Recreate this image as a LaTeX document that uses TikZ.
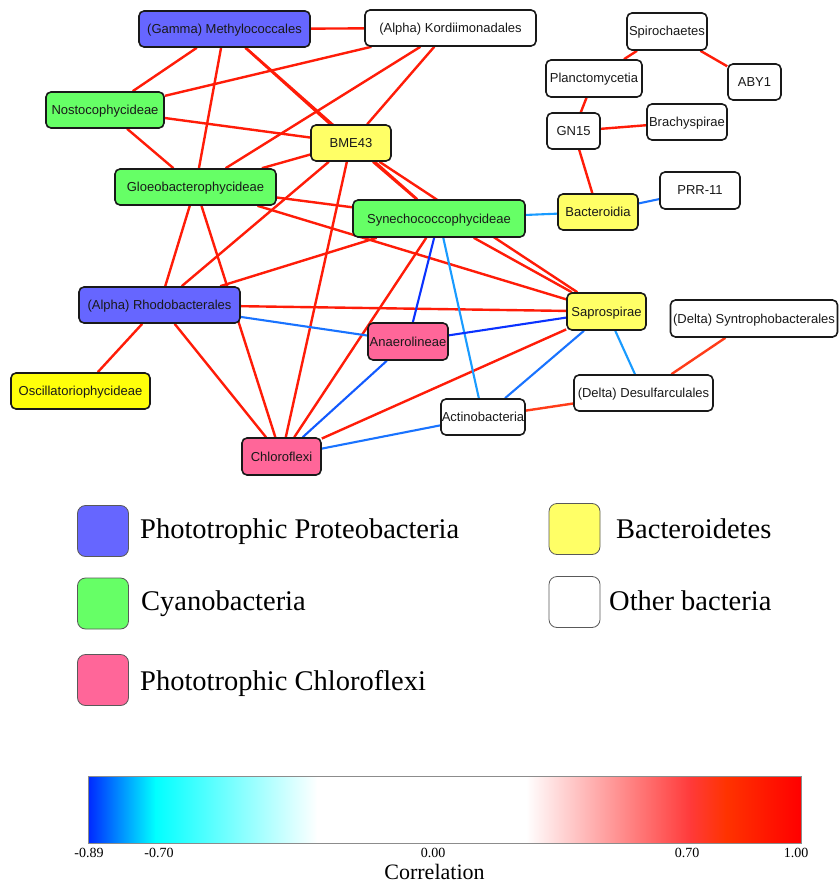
\documentclass[tikz,border=0pt]{standalone}
\usepackage{fontspec}
\setmainfont{Liberation Serif}
\newfontfamily\arialf{Liberation Sans}
\pgfdeclarelayer{bg}
\pgfsetlayers{bg,main}

\definecolor{cblue}{RGB}{102,102,255}
\definecolor{cgreen}{RGB}{102,255,102}
\definecolor{cyell}{RGB}{255,255,102}
\definecolor{cyelltwo}{RGB}{255,255,10}
\definecolor{cpink}{RGB}{255,102,153}
\definecolor{ered}{RGB}{255,28,8}
\definecolor{eorange}{RGB}{255,60,25}
\definecolor{elight}{RGB}{25,155,255}
\definecolor{emid}{RGB}{25,115,255}
\definecolor{emiddark}{RGB}{18,90,255}
\definecolor{edark}{RGB}{10,50,255}

\tikzset{
  taxon/.style={draw=black!90, line width=1.6pt, rounded corners=5pt, inner sep=0pt,
    minimum height=36pt, font=\arialf\fontsize{13}{15}\selectfont, text=black!90,
    text height=10.5pt, text depth=1.5pt},
  posedge/.style={draw=ered, line width=2.4pt},
  oredge/.style={draw=eorange, line width=2.4pt},
  negedge/.style={line width=2.1pt},
  legbox/.style={draw=black!65, line width=0.8pt, rounded corners=8pt, minimum width=51pt,
    minimum height=51pt, inner sep=0pt},
  legtext/.style={anchor=base west, inner sep=0pt, font=\fontsize{28.5}{32}\selectfont},
  cbl/.style={anchor=base, inner sep=0pt, font=\fontsize{14}{16}\selectfont}
}

\begin{document}
\begin{tikzpicture}[x=1pt,y=-1pt]
\useasboundingbox (0,0) rectangle (839,885);
\begin{pgfonlayer}{bg}
\fill[white] (0,0) rectangle (839,885);
\end{pgfonlayer}

% ---------- network nodes ----------
\node[taxon, fill=cblue,  minimum width=171pt] (meth)   at (224.5,29)  {(Gamma) Methylococcales};
\node[taxon, fill=white,  minimum width=171pt] (kord)   at (450.5,28)  {(Alpha) Kordiimonadales};
\node[taxon, fill=white,  minimum width=80pt, minimum height=37pt] (spiro) at (667,31.5) {Spirochaetes};
\node[taxon, fill=white,  minimum width=53pt]  (aby)    at (754.5,82)  {ABY1};
\node[taxon, fill=white,  minimum width=96pt, minimum height=37pt] (planc) at (594,78.5) {Planctomycetia};
\node[taxon, fill=white,  minimum width=53pt]  (gn)     at (573.5,131) {GN15};
\node[taxon, fill=white,  minimum width=80pt]  (brachy) at (687,122)   {Brachyspirae};
\node[taxon, fill=cyell,  minimum width=80pt]  (bacti)  at (598,212)   {Bacteroidia};
\node[taxon, fill=white,  minimum width=80pt, minimum height=37pt] (prr) at (700,190.5) {PRR-11};
\node[taxon, fill=cgreen, minimum width=118pt] (nosto)  at (105,110)   {Nostocophycideae};
\node[taxon, fill=cyell,  minimum width=80pt]  (bme)    at (351,143)   {BME43};
\node[taxon, fill=cgreen, minimum width=161pt] (gloeo)  at (195.5,187) {Gloeobacterophycideae};
\node[taxon, fill=cgreen, minimum width=172pt, minimum height=37pt] (syn) at (439,218.5) {Synechococcophycideae};
\node[taxon, fill=cblue,  minimum width=161pt] (rhodo)  at (159.5,305) {(Alpha) Rhodobacterales};
\node[taxon, fill=cyelltwo, minimum width=139pt] (oscill) at (80.5,391) {Oscillatoriophycideae};
\node[taxon, fill=cpink,  minimum width=80pt, minimum height=37pt] (anaero) at (408,341.5) {Anaerolineae};
\node[taxon, fill=cpink,  minimum width=79pt, minimum height=37pt] (chloro) at (281.5,456.5) {Chloroflexi};
\node[taxon, fill=cyell,  minimum width=79pt, minimum height=37pt] (sapro) at (606.5,311.5) {Saprospirae};
\node[taxon, fill=white,  minimum width=167pt, minimum height=37pt] (syntro) at (754,318.5) {(Delta) Syntrophobacterales};
\node[taxon, fill=white,  minimum width=139pt] (desulf) at (643.5,393) {(Delta) Desulfarculales};
\node[taxon, fill=white,  minimum width=84pt]  (actino) at (483,417)   {Actinobacteria};

% ---------- edges ----------
\begin{pgfonlayer}{bg}
\draw[posedge] (meth) -- (kord);
\draw[posedge] (meth) -- (nosto);
\draw[posedge] (meth) -- (gloeo);
\draw[posedge] (meth) -- (bme);
\draw[posedge] (meth) -- (syn);
\draw[posedge] (kord) -- (nosto);
\draw[posedge] (kord) -- (gloeo);
\draw[posedge] (kord) -- (bme);
\draw[posedge] (nosto) -- (bme);
\draw[posedge] (nosto) -- (gloeo);
\draw[posedge] (gloeo) -- (bme);
\draw[posedge] (gloeo) -- (syn);
\draw[posedge] (gloeo) -- (sapro);
\draw[posedge] (gloeo) -- (rhodo);
\draw[posedge] (gloeo) -- (chloro);
\draw[posedge] (bme) -- (rhodo);
\draw[posedge] (bme) -- (chloro);
\draw[posedge] (bme) -- (syn);
\draw[posedge] (bme) -- (sapro);
\draw[posedge] (syn) -- (rhodo);
\draw[posedge] (syn) -- (chloro);
\draw[posedge] (syn) -- (sapro);
\draw[posedge] (rhodo) -- (sapro);
\draw[posedge] (rhodo) -- (oscill);
\draw[posedge] (rhodo) -- (chloro);
\draw[posedge] (chloro) -- (sapro);
\draw[posedge] (gn) -- (planc);
\draw[posedge] (planc) -- (spiro);
\draw[posedge] (spiro) -- (aby);
\draw[posedge] (gn) -- (brachy);
\draw[posedge] (gn) -- (bacti);
\draw[oredge] (desulf) -- (syntro);
\draw[oredge] (actino) -- (desulf);
\draw[negedge, draw=elight] (syn) -- (bacti);
\draw[negedge, draw=emid] (bacti) -- (prr);
\draw[negedge, draw=edark] (syn) -- (anaero);
\draw[negedge, draw=elight] (syn) -- (actino);
\draw[negedge, draw=emid] (rhodo) -- (anaero);
\draw[negedge, draw=edark] (anaero) -- (sapro);
\draw[negedge, draw=emiddark] (anaero) -- (chloro);
\draw[negedge, draw=emid] (chloro) -- (actino);
\draw[negedge, draw=emid] (sapro) -- (actino);
\draw[negedge, draw=elight] (sapro) -- (desulf);
\end{pgfonlayer}

% ---------- legend ----------
\node[legbox, fill=cblue]  (lgA) at (103,531)   {};
\node[legtext] (ltA) at (140,538) {Phototrophic Proteobacteria};
\node[legbox, fill=cgreen] (lgB) at (103,603.5) {};
\node[legtext] (ltB) at (141,610) {Cyanobacteria};
\node[legbox, fill=cpink]  (lgC) at (103,680)   {};
\node[legtext] (ltC) at (140,690) {Phototrophic Chloroflexi};
\node[legbox, fill=cyell]  (lgD) at (574.5,529) {};
\node[legtext] (ltD) at (616,538) {Bacteroidetes};
\node[legbox, fill=white]  (lgE) at (574.5,602) {};
\node[legtext] (ltE) at (609,610) {Other bacteria};

% ---------- colour bar ----------
\shade[left color={rgb,255:red,0;green,40;blue,255}, right color={rgb,255:red,0;green,255;blue,255}] (88,776) rectangle (155.5,843);
\shade[left color={rgb,255:red,0;green,255;blue,255}, right color=white] (155,776) rectangle (317.5,843);
\fill[white] (317,776) rectangle (526.5,843);
\shade[left color=white, right color={rgb,255:red,255;green,58;blue,58}] (526,776) rectangle (690.5,843);
\shade[left color={rgb,255:red,255;green,58;blue,58}, right color={rgb,255:red,255;green,51;blue,0}] (690,776) rectangle (726.5,843);
\shade[left color={rgb,255:red,255;green,51;blue,0}, right color={rgb,255:red,255;green,0;blue,0}] (726,776) rectangle (801,843);
\draw[black!45, line width=0.9pt] (88,776) rectangle (801,843);

\node[cbl] (cbA) at (89,857)  {-0.89};
\node[cbl] (cbB) at (159,857) {-0.70};
\node[cbl] (cbC) at (433,857) {0.00};
\node[cbl] (cbD) at (687,857) {0.70};
\node[cbl] (cbE) at (796,857) {1.00};
\node[anchor=base, inner sep=0pt, font=\fontsize{22}{26}\selectfont] (cbT) at (434.5,879) {Correlation};
\end{tikzpicture}
\end{document}
